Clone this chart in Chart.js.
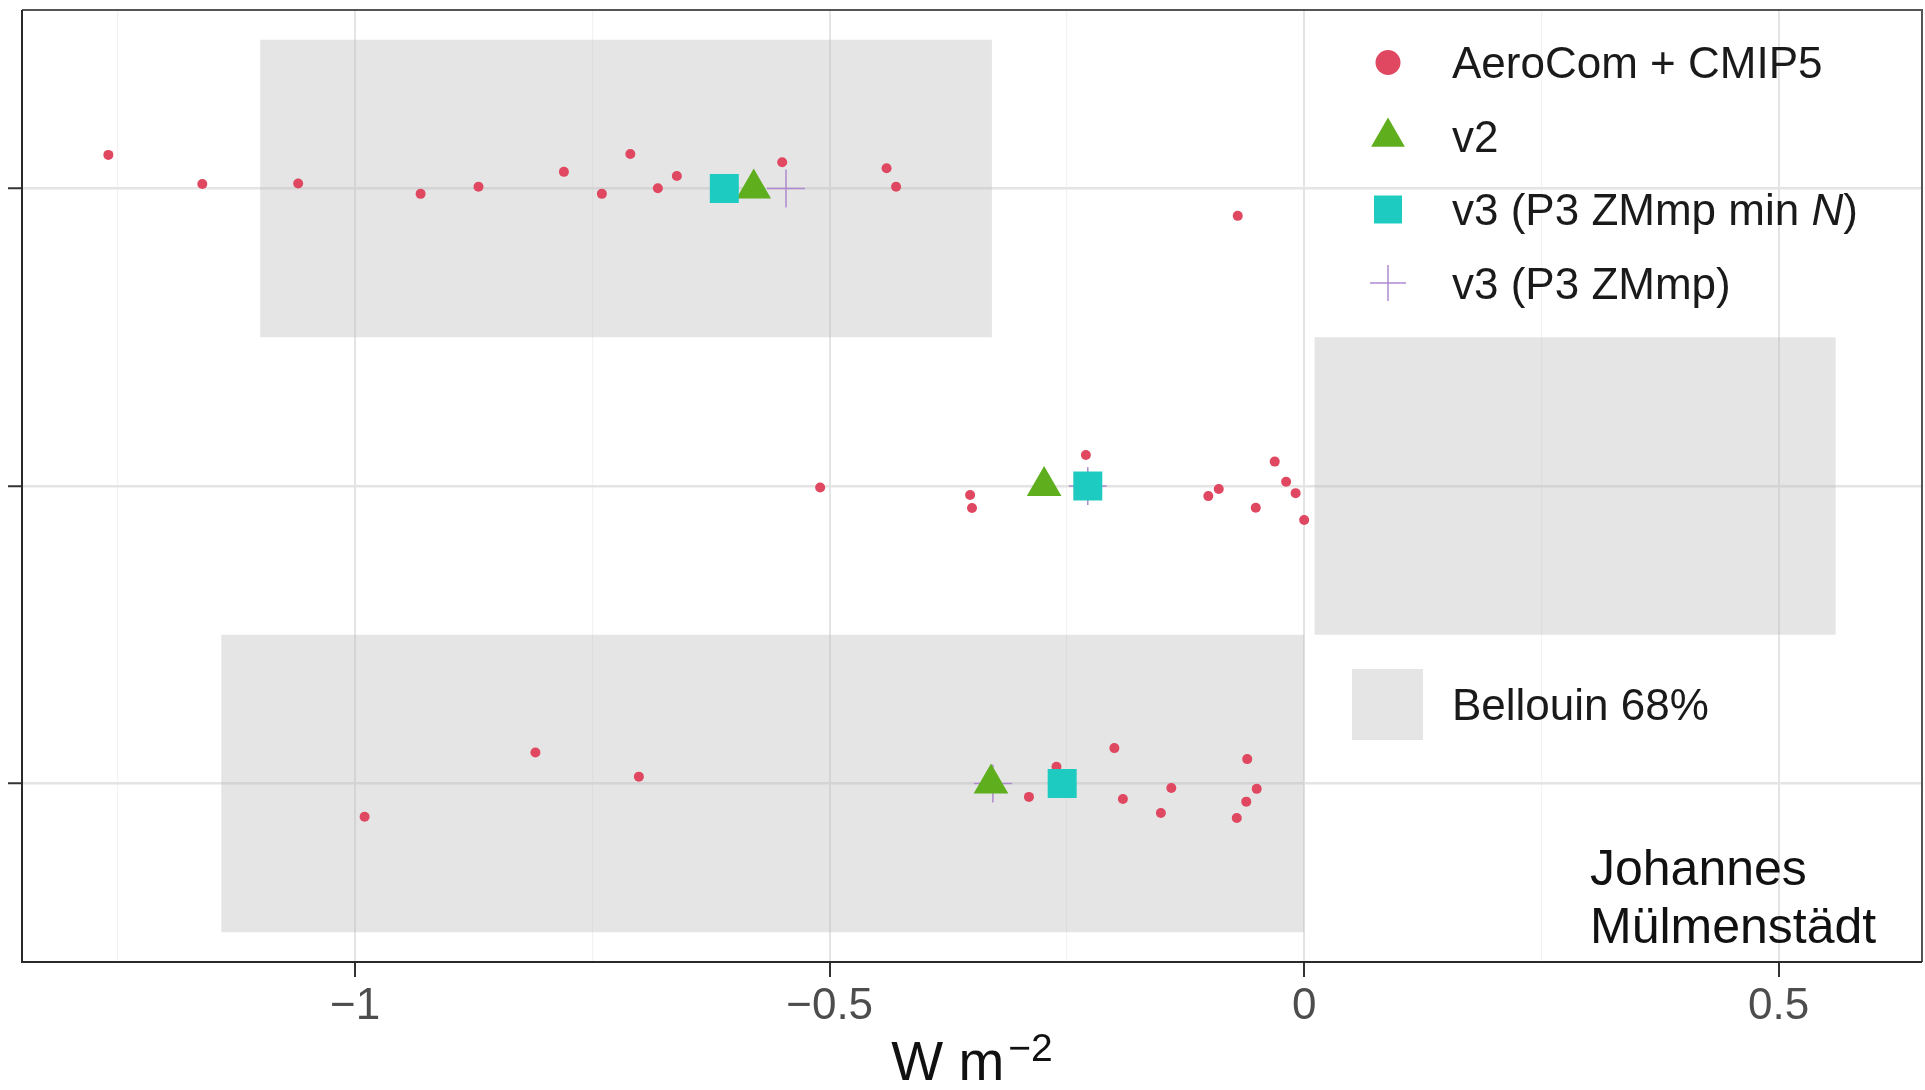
<!DOCTYPE html>
<html>
<head>
<meta charset="utf-8">
<script src="https://cdn.jsdelivr.net/npm/chart.js@4.4.1/dist/chart.umd.min.js"></script>
<style>
html,body{margin:0;padding:0;background:#fff;overflow:hidden}
#wrap{width:1925px;height:1090px;position:relative}
</style>
</head>
<body>
<div id="wrap"><canvas id="c" width="1925" height="1090"></canvas></div>
<script>
// ---- data ----
const rows = [1, 2, 3];
const aeroRow1X = [-1.260, -1.161, -1.060, -0.931, -0.870, -0.780, -0.740, -0.710, -0.681, -0.661, -0.550, -0.440, -0.430, -0.070];
const aeroRow1J = [-0.113, -0.015, -0.017, 0.018, -0.006, -0.056, 0.018, -0.116, -0.001, -0.042, -0.088, -0.068, -0.006, 0.092];
const aeroRow2X = [-0.510, -0.352, -0.350, -0.230, -0.101, -0.090, -0.051, -0.031, -0.019, -0.009, 0.000];
const aeroRow2J = [0.005, 0.030, 0.074, -0.104, 0.034, 0.010, 0.073, -0.082, -0.014, 0.024, 0.114];
const aeroRow3X = [-0.990, -0.810, -0.701, -0.290, -0.261, -0.200, -0.191, -0.151, -0.140, -0.071, -0.061, -0.060, -0.050];
const aeroRow3J = [0.112, -0.104, -0.023, 0.045, -0.056, -0.119, 0.052, 0.099, 0.015, 0.116, 0.061, -0.082, 0.018];
const v2X = [-0.580, -0.274, -0.330];
const v3MinNX = [-0.611, -0.228, -0.255];
const v3ZMmpX = [-0.546, -0.228, -0.328];
const bellouinLo = [-1.100, 0.011, -1.141];
const bellouinHi = [-0.329, 0.560, 0.000];
const xMajorTicks = [-1, -0.5, 0, 0.5];
const xMinorTicks = [-1.25, -0.75, -0.25, 0.25];
const xTickLabels = ['\u22121', '\u22120.5', '0', '0.5'];
const legendLabels = ['AeroCom + CMIP5', 'v2', 'v3 (P3 ZMmp min ', 'v3 (P3 ZMmp)'];
const legendItalic = ['', '', 'N', ''];
const legendTail = ['', '', ')', ''];
const bellouinLabel = 'Bellouin 68%';
const authorLines = ['Johannes', 'Mülmenstädt'];
const xTitle = 'W m';
const xTitleSup = '\u22122';

// ---- build ----
const FONT = '"Liberation Sans", Arial, Helvetica, sans-serif';
const C_RED = '#DF4860', C_GREEN = '#5FAE1E', C_TEAL = '#1ECBC0', C_PURPLE = '#B08AD0';

const aeroPoints = [];
[[aeroRow1X, aeroRow1J], [aeroRow2X, aeroRow2J], [aeroRow3X, aeroRow3J]].forEach(([xs, js], i) => {
  xs.forEach((v, k) => aeroPoints.push({x: v, y: rows[i] + js[k]}));
});
const onRows = arr => arr.map((v, i) => ({x: v, y: rows[i]}));
const isMajor = v => xMajorTicks.some(m => Math.abs(m - v) < 1e-9);

const decor = {
  id: 'decor',
  beforeDatasetsDraw(chart) {
    const {ctx, scales: {x, y}} = chart;
    ctx.save();
    ctx.fillStyle = 'rgba(185,185,185,0.37)';
    rows.forEach((r, i) => {
      const x0 = x.getPixelForValue(bellouinLo[i]);
      const x1 = x.getPixelForValue(bellouinHi[i]);
      const y0 = y.getPixelForValue(r - 0.5);
      const y1 = y.getPixelForValue(r + 0.5);
      ctx.fillRect(x0, Math.min(y0, y1), x1 - x0, Math.abs(y1 - y0));
    });
    ctx.restore();
  },
  afterDraw(chart) {
    const {ctx, chartArea: a} = chart;
    ctx.save();
    // panel border
    ctx.lineWidth = 2;
    ctx.strokeStyle = '#555';
    ctx.beginPath();
    ctx.moveTo(a.left, a.top); ctx.lineTo(a.right, a.top); ctx.lineTo(a.right, a.bottom);
    ctx.stroke();
    ctx.strokeStyle = '#2a2a2a';
    ctx.beginPath();
    ctx.moveTo(a.left, a.top); ctx.lineTo(a.left, a.bottom); ctx.lineTo(a.right, a.bottom);
    ctx.stroke();

    // legend
    const LX = 1388, TX = 1452, LY = [62.5, 136, 209.5, 283];
    const H = Chart.helpers;
    ctx.fillStyle = C_RED; ctx.strokeStyle = C_RED;
    H.drawPoint(ctx, {pointStyle: 'circle', radius: 12.5, borderWidth: 0, rotation: 0}, LX, LY[0]);
    ctx.fillStyle = C_GREEN;
    H.drawPoint(ctx, {pointStyle: 'triangle', radius: 19.5, borderWidth: 0, rotation: 0}, LX, LY[1] + 1);
    ctx.fillStyle = C_TEAL;
    H.drawPoint(ctx, {pointStyle: 'rect', radius: 19.8, borderWidth: 0, rotation: 0}, LX, LY[2]);
    ctx.strokeStyle = C_PURPLE; ctx.lineWidth = 1.5;
    H.drawPoint(ctx, {pointStyle: 'cross', radius: 18, borderWidth: 1.5, rotation: 0}, LX, LY[3]);

    ctx.fillStyle = '#1A1A1A';
    ctx.textBaseline = 'alphabetic';
    ctx.textAlign = 'left';
    legendLabels.forEach((t, i) => {
      const base = LY[i] + 15.8;
      ctx.font = '44px ' + FONT;
      ctx.fillText(t, TX, base);
      let xx = TX + ctx.measureText(t).width;
      if (legendItalic[i]) {
        ctx.font = 'italic 44px ' + FONT;
        ctx.fillText(legendItalic[i], xx, base);
        xx += ctx.measureText(legendItalic[i]).width;
        ctx.font = '44px ' + FONT;
        ctx.fillText(legendTail[i], xx, base);
      }
    });
    // Bellouin key
    ctx.fillStyle = '#E5E5E5';
    ctx.fillRect(1352, 669, 71, 71);
    ctx.fillStyle = '#1A1A1A';
    ctx.font = '44px ' + FONT;
    ctx.fillText(bellouinLabel, TX, 720);

    // author
    ctx.font = '50px ' + FONT;
    ctx.fillStyle = '#111';
    ctx.fillText(authorLines[0], 1590, 885);
    ctx.fillText(authorLines[1], 1590, 943);

    // x axis title
    const cx = (a.left + a.right) / 2;
    ctx.font = '55px ' + FONT;
    const w1 = ctx.measureText(xTitle).width;
    ctx.font = '39px ' + FONT;
    const w2 = ctx.measureText(xTitleSup).width;
    const gap = 4;
    const start = cx - (w1 + gap + w2) / 2;
    ctx.fillStyle = '#111';
    ctx.font = '55px ' + FONT;
    ctx.fillText(xTitle, start, 1080);
    ctx.font = '39px ' + FONT;
    ctx.fillText(xTitleSup, start + w1 + gap, 1061);
    ctx.restore();
  }
};

new Chart(document.getElementById('c'), {
  type: 'scatter',
  data: {
    datasets: [
      {label: 'AeroCom + CMIP5', data: aeroPoints, pointStyle: 'circle', pointRadius: 5,
       backgroundColor: C_RED, borderColor: C_RED, borderWidth: 0, order: 4},
      {label: 'v3 (P3 ZMmp)', data: onRows(v3ZMmpX), pointStyle: 'cross', pointRadius: 19,
       backgroundColor: C_PURPLE, borderColor: C_PURPLE, borderWidth: 1.5, order: 3},
      {label: 'v2', data: onRows(v2X), pointStyle: 'triangle', pointRadius: 20,
       backgroundColor: C_GREEN, borderColor: C_GREEN, borderWidth: 0, order: 2},
      {label: 'v3 (P3 ZMmp min N)', data: onRows(v3MinNX), pointStyle: 'rect', pointRadius: 20.5,
       backgroundColor: C_TEAL, borderColor: C_TEAL, borderWidth: 0, order: 1}
    ]
  },
  options: {
    responsive: false,
    animation: false,
    events: [],
    layout: {autoPadding: false, padding: {top: 10, right: 3, left: 0, bottom: 0}},
    plugins: {legend: {display: false}, tooltip: {enabled: false}},
    scales: {
      x: {
        type: 'linear', min: -1.351, max: 0.651,
        afterBuildTicks(s) {
          s.ticks = xMinorTicks.concat(xMajorTicks).sort((p, q) => p - q).map(v => ({value: v}));
        },
        afterFit(s) { s.height = 128; s.paddingLeft = 0; s.paddingRight = 0; },
        ticks: {
          autoSkip: false, maxRotation: 0, minRotation: 0, padding: 3, color: '#4D4D4D',
          font: {family: FONT, size: 44},
          callback(v) { const i = xMajorTicks.findIndex(m => Math.abs(m - v) < 1e-9); return i >= 0 ? xTickLabels[i] : ''; }
        },
        grid: {
          color: c => (c.tick && isMajor(c.tick.value)) ? '#E4E4E4' : '#F2F2F2',
          lineWidth: c => (c.tick && isMajor(c.tick.value)) ? 2 : 1.2,
          tickColor: c => (c.tick && isMajor(c.tick.value)) ? '#333' : 'rgba(0,0,0,0)',
          tickLength: 15, tickWidth: 2, drawTicks: true
        },
        border: {display: false}
      },
      y: {
        type: 'linear', min: 0.4, max: 3.6, reverse: true,
        afterBuildTicks(s) { s.ticks = rows.map(v => ({value: v})); },
        afterFit(s) { s.width = 22; s.paddingTop = 0; s.paddingBottom = 0; },
        ticks: {padding: 0, callback: () => ''},
        grid: {color: '#E4E4E4', lineWidth: 2.5, tickColor: '#333', tickLength: 14, tickWidth: 2},
        border: {display: false}
      }
    }
  },
  plugins: [decor]
});
</script>
</body>
</html>
